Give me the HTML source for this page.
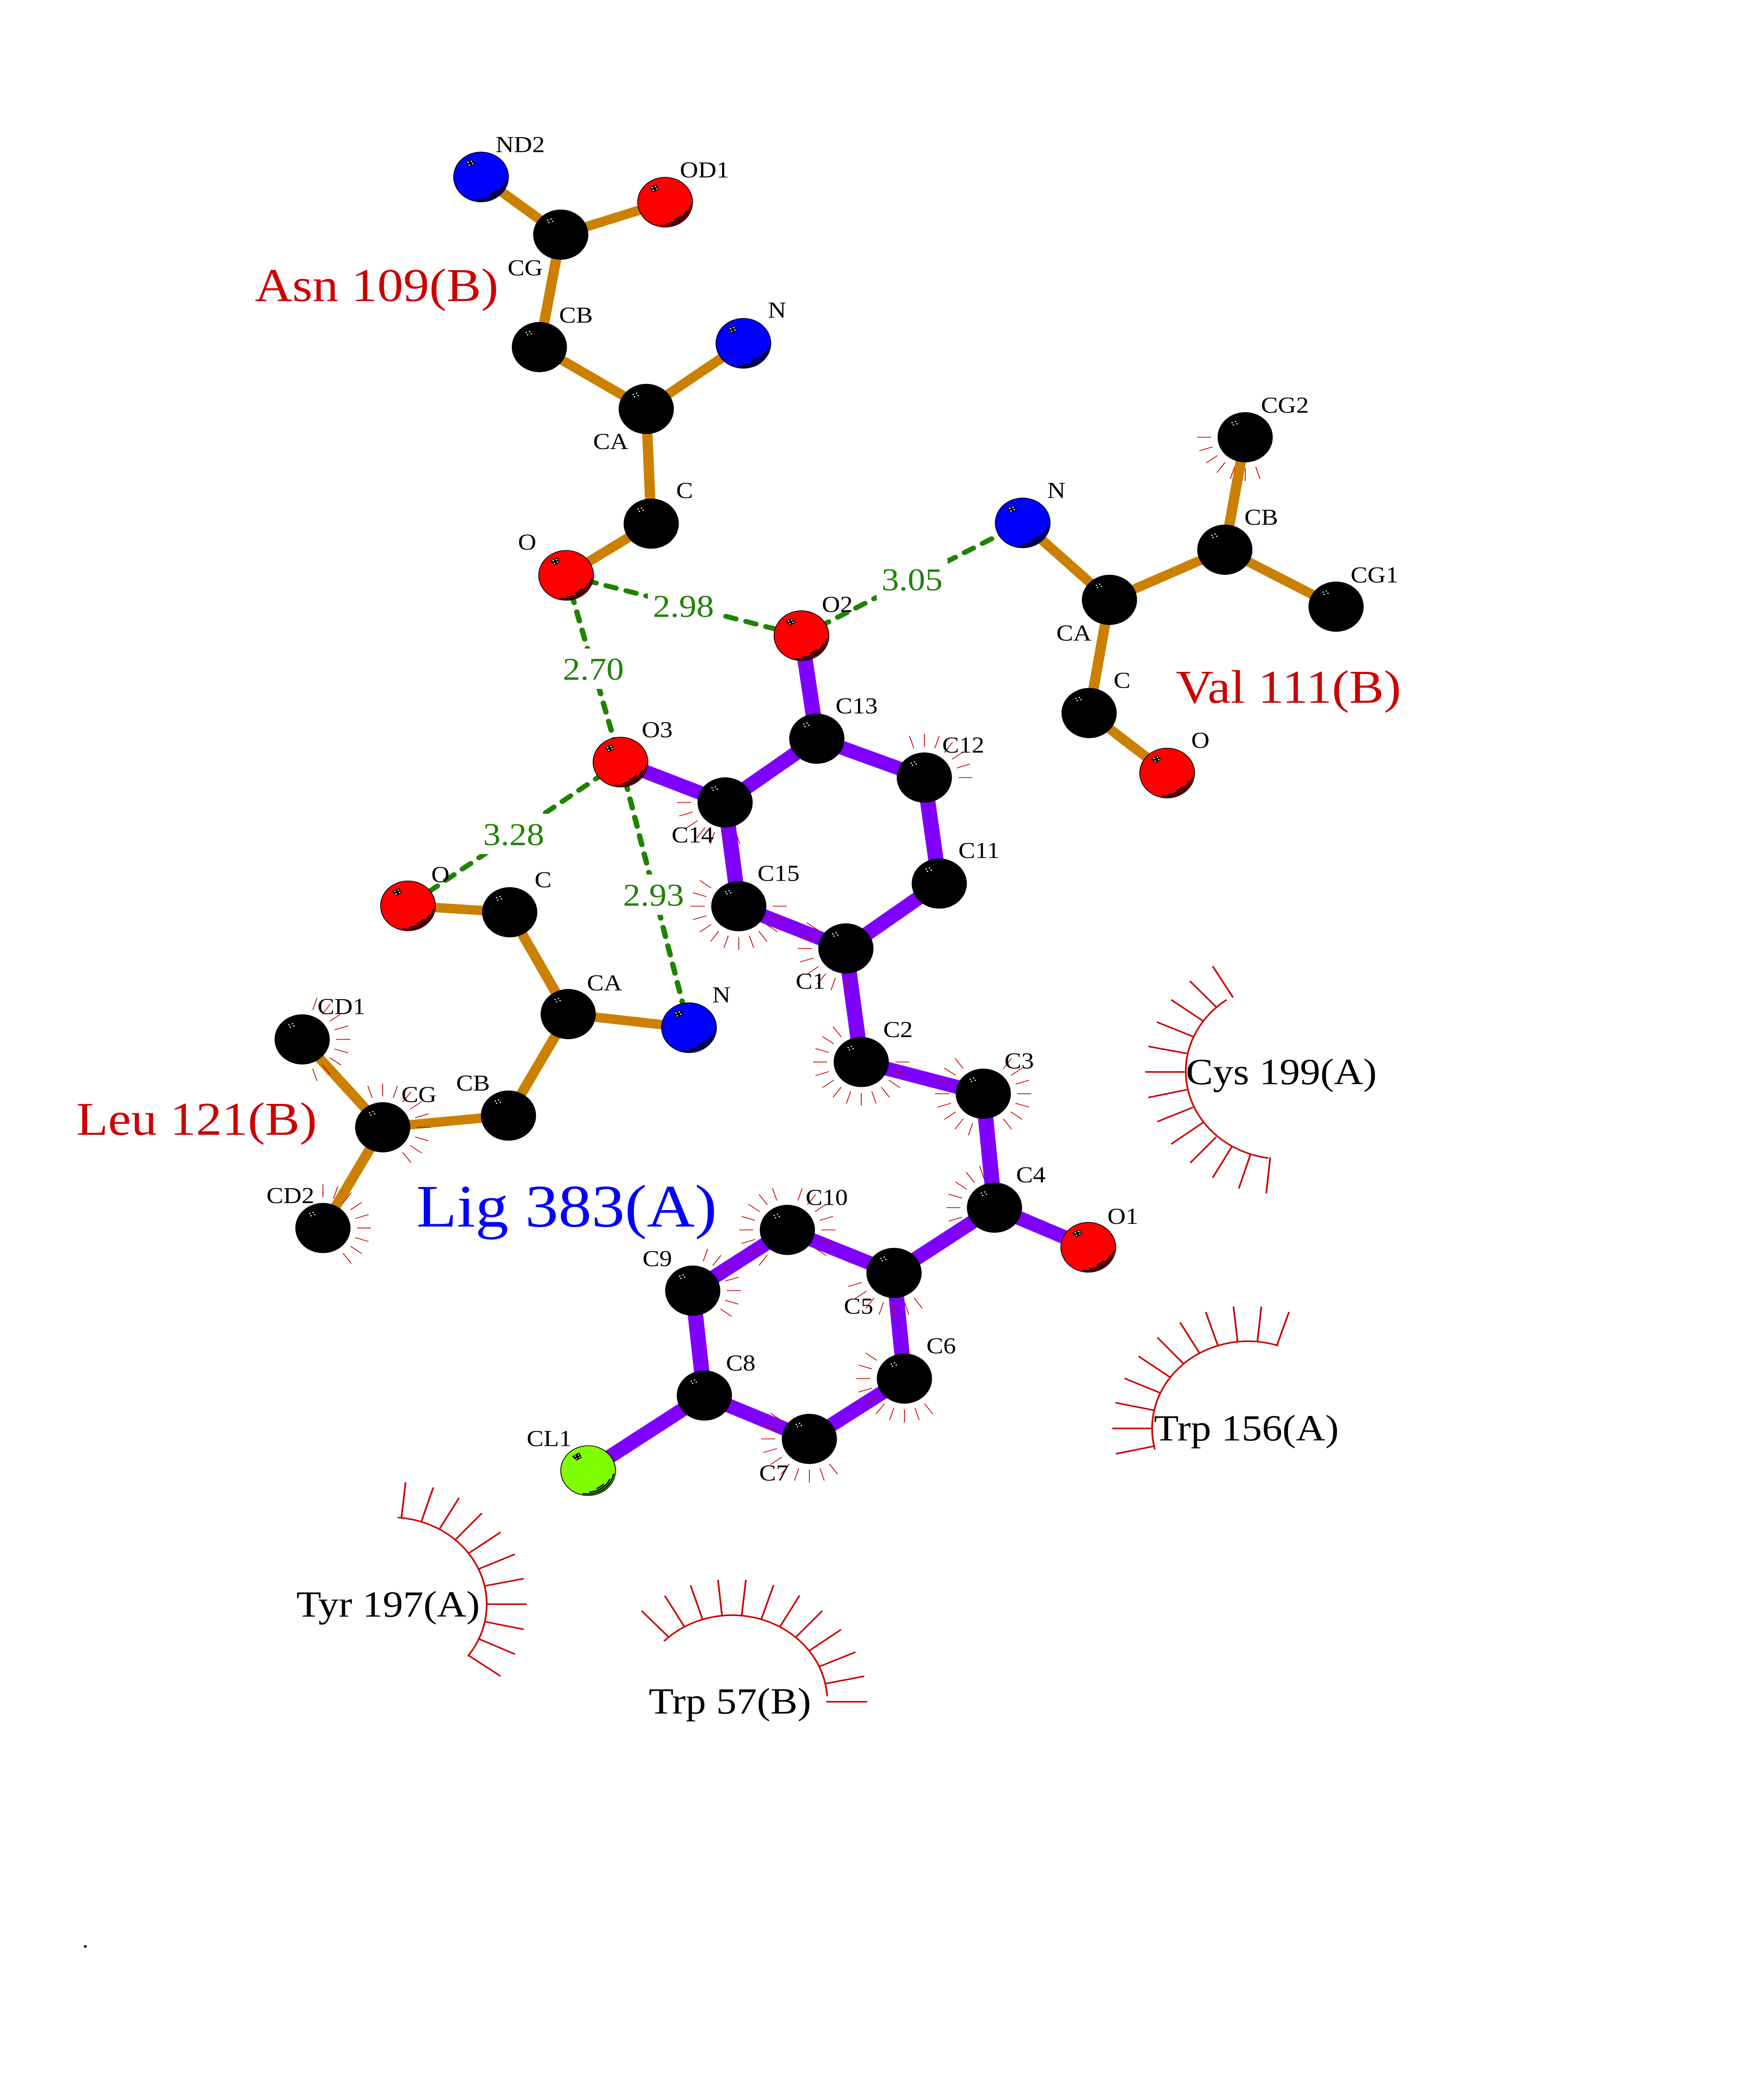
<!DOCTYPE html>
<html><head><meta charset="utf-8"><title>Ligand interaction diagram</title>
<style>
html,body{margin:0;padding:0;background:#fff;width:100%;height:100%;overflow:hidden}
svg{display:block;position:absolute;left:0;top:0;width:100vw;height:100vh}
text{font-family:"Liberation Serif","Times New Roman",serif}
.a{font-size:61px;fill:#000}
.d{font-size:84px;fill:#1f8200}
.r{font-size:125px;fill:#cc0000}
.k{font-size:98px;fill:#000}
.l{font-size:160px;fill:#0000ff}
.o{fill:none;stroke:#cc8000;stroke-width:25}
.p{fill:none;stroke:#8000ff;stroke-width:37}
.h{fill:none;stroke:#1f8200;stroke-width:13;stroke-dasharray:25 25;stroke-linecap:round}
.m line,.m path{stroke:#cc0000;stroke-width:8;stroke-linecap:round;fill:none}
</style></head><body>
<svg xmlns="http://www.w3.org/2000/svg" viewBox="0 0 4250 5500" preserveAspectRatio="none">
<defs>
<line id="s" x1="82" y1="0" x2="116" y2="0" stroke="#cc0000" stroke-width="2"/>
<g id="b"><circle r="66.5" fill="#000"/><g fill="#fff"><rect x="-33" y="-40" width="3" height="3"/><rect x="-25" y="-43" width="3" height="3"/><rect x="-30" y="-34" width="3" height="3"/><rect x="-21" y="-37" width="3" height="3"/></g></g>
<g id="c"><circle r="66" stroke="#000" stroke-width="2"/>
<polygon points="-38.8,-37.8 -21.4,-48 -15.3,-34.2 -28,-26.5" fill="#000"/>
<g fill="#fff"><rect x="-33" y="-40" width="3.5" height="3"/><rect x="-25" y="-43" width="3.5" height="3"/><rect x="-30" y="-33" width="3.5" height="3"/><rect x="-22" y="-37" width="3.5" height="3"/></g>
<g fill="none" stroke="#000" stroke-width="3.5" stroke-linecap="round"><path d="M-12,61A62,62 0 0 0 61,10"/><path d="M4,57A57.5,57.5 0 0 0 52,23.5"/><path d="M22,47A52,52 0 0 0 37,36.7"/></g></g>
</defs>

<!-- hydrogen bonds -->
<g class="h">
<line x1="1364" y1="1525" x2="1931" y2="1685"/>
<line x1="1364" y1="1525" x2="1495" y2="2020"/>
<line x1="1931" y1="1685" x2="2464" y2="1386"/>
<line x1="1495" y1="2020" x2="983" y2="2401"/>
<line x1="1495" y1="2020" x2="1660" y2="2724"/>
</g>
<g fill="#fff">
<rect x="1561" y="1552" width="171" height="107"/>
<rect x="2112" y="1482" width="171" height="107"/>
<rect x="1344" y="1719" width="171" height="107"/>
<rect x="1152" y="2157" width="171" height="107"/>
<rect x="1489" y="2318" width="171" height="107"/>
</g>

<!-- bonds -->
<g class="o">
<line x1="1159" y1="469" x2="1351" y2="622"/><line x1="1602" y1="536" x2="1351" y2="622"/>
<line x1="1351" y1="622" x2="1300" y2="920"/><line x1="1300" y1="920" x2="1557" y2="1084"/>
<line x1="1791" y1="910" x2="1557" y2="1084"/><line x1="1557" y1="1084" x2="1569" y2="1388"/>
<line x1="1569" y1="1388" x2="1364" y2="1525"/>
<line x1="2464" y1="1386" x2="2673" y2="1590"/><line x1="2673" y1="1590" x2="2951" y2="1457"/>
<line x1="2951" y1="1457" x2="3000" y2="1159"/><line x1="2951" y1="1457" x2="3219" y2="1608"/>
<line x1="2673" y1="1590" x2="2624" y2="1890"/><line x1="2624" y1="1890" x2="2812" y2="2049"/>
<line x1="983" y1="2401" x2="1228" y2="2418"/><line x1="1228" y1="2418" x2="1369" y2="2688"/>
<line x1="1369" y1="2688" x2="1660" y2="2724"/><line x1="1369" y1="2688" x2="1225" y2="2957"/>
<line x1="1225" y1="2957" x2="922" y2="2988"/><line x1="922" y1="2988" x2="728" y2="2755"/>
<line x1="922" y1="2988" x2="778" y2="3255"/>
</g>
<g class="p">
<line x1="1931" y1="1685" x2="1968" y2="1958"/><line x1="1968" y1="1958" x2="2227" y2="2061"/>
<line x1="2227" y1="2061" x2="2263" y2="2342"/><line x1="2263" y1="2342" x2="2038" y2="2514"/>
<line x1="2038" y1="2514" x2="1780" y2="2402"/><line x1="1780" y1="2402" x2="1747" y2="2127"/>
<line x1="1747" y1="2127" x2="1968" y2="1958"/><line x1="1747" y1="2127" x2="1495" y2="2020"/>
<line x1="2038" y1="2514" x2="2075" y2="2815"/><line x1="2075" y1="2815" x2="2369" y2="2899"/>
<line x1="2369" y1="2899" x2="2396" y2="3201"/><line x1="2396" y1="3201" x2="2622" y2="3306"/>
<line x1="2396" y1="3201" x2="2154" y2="3374"/><line x1="2154" y1="3374" x2="1897" y2="3260"/>
<line x1="1897" y1="3260" x2="1669" y2="3421"/><line x1="1669" y1="3421" x2="1697" y2="3699"/>
<line x1="1697" y1="3699" x2="1950" y2="3814"/><line x1="1950" y1="3814" x2="2179" y2="3654"/>
<line x1="2179" y1="3654" x2="2154" y2="3374"/><line x1="1697" y1="3699" x2="1417" y2="3898"/>
</g>

<!-- atoms -->
<use href="#c" x="1159" y="469" fill="#0000ff"/><use href="#c" x="1602.5" y="536" fill="#ff0000"/>
<use href="#b" x="1351" y="622"/><use href="#b" x="1299.5" y="920"/><use href="#c" x="1791" y="910" fill="#0000ff"/>
<use href="#b" x="1557" y="1084"/><use href="#b" x="1569" y="1388"/><use href="#c" x="1364" y="1525" fill="#ff0000"/>
<use href="#c" x="2464" y="1386" fill="#0000ff"/><use href="#b" x="2673" y="1590"/><use href="#b" x="2951" y="1457"/>
<use href="#b" x="3000" y="1159"/><use href="#b" x="3219" y="1608"/><use href="#b" x="2624" y="1890"/><use href="#c" x="2812" y="2049" fill="#ff0000"/>
<use href="#c" x="1931" y="1685" fill="#ff0000"/><use href="#b" x="1968" y="1958"/><use href="#b" x="2227" y="2061"/>
<use href="#b" x="2263" y="2342"/><use href="#b" x="2038" y="2514"/><use href="#b" x="1780" y="2402"/><use href="#b" x="1747" y="2127"/>
<use href="#c" x="1495" y="2020" fill="#ff0000"/><use href="#b" x="2075" y="2815"/><use href="#b" x="2369" y="2899"/>
<use href="#b" x="2396" y="3201"/><use href="#c" x="2622" y="3306" fill="#ff0000"/><use href="#b" x="2154" y="3374"/>
<use href="#b" x="1897" y="3260"/><use href="#b" x="1669" y="3421"/><use href="#b" x="1697" y="3699"/><use href="#b" x="1950" y="3814"/>
<use href="#b" x="2179" y="3654"/><use href="#c" x="1417" y="3898" fill="#80ff00"/>
<use href="#c" x="983" y="2401" fill="#ff0000"/><use href="#b" x="1228" y="2418"/><use href="#b" x="1369" y="2688"/>
<use href="#c" x="1660" y="2724" fill="#0000ff"/><use href="#b" x="1225" y="2957"/><use href="#b" x="922" y="2988"/>
<use href="#b" x="728" y="2755"/><use href="#b" x="778" y="3255"/>

<!-- small hydrophobic fans -->
<g transform="translate(728 2755)"><use href="#s" transform="rotate(-72)"/><use href="#s" transform="rotate(-54)"/><use href="#s" transform="rotate(-36)"/><use href="#s" transform="rotate(-18)"/><use href="#s"/><use href="#s" transform="rotate(18)"/><use href="#s" transform="rotate(36)"/><use href="#s" transform="rotate(54)"/><use href="#s" transform="rotate(72)"/></g>
<g transform="translate(922 2988)"><use href="#s" transform="rotate(-108)"/><use href="#s" transform="rotate(-90)"/><use href="#s" transform="rotate(-72)"/><use href="#s" transform="rotate(-54)"/><use href="#s" transform="rotate(-36)"/><use href="#s" transform="rotate(-18)"/><use href="#s"/><use href="#s" transform="rotate(18)"/><use href="#s" transform="rotate(36)"/><use href="#s" transform="rotate(54)"/></g>
<g transform="translate(778 3255)"><use href="#s" transform="rotate(-90)"/><use href="#s" transform="rotate(-72)"/><use href="#s" transform="rotate(-54)"/><use href="#s" transform="rotate(-36)"/><use href="#s" transform="rotate(-18)"/><use href="#s"/><use href="#s" transform="rotate(18)"/><use href="#s" transform="rotate(36)"/><use href="#s" transform="rotate(54)"/></g>
<g transform="translate(1747 2127)"><use href="#s" transform="rotate(72)"/><use href="#s" transform="rotate(90)"/><use href="#s" transform="rotate(108)"/><use href="#s" transform="rotate(126)"/><use href="#s" transform="rotate(144)"/><use href="#s" transform="rotate(162)"/><use href="#s" transform="rotate(180)"/></g>
<g transform="translate(1780 2402)"><use href="#s"/><use href="#s" transform="rotate(18)"/><use href="#s" transform="rotate(36)"/><use href="#s" transform="rotate(54)"/><use href="#s" transform="rotate(72)"/><use href="#s" transform="rotate(90)"/><use href="#s" transform="rotate(108)"/><use href="#s" transform="rotate(126)"/><use href="#s" transform="rotate(144)"/><use href="#s" transform="rotate(162)"/><use href="#s" transform="rotate(180)"/><use href="#s" transform="rotate(198)"/><use href="#s" transform="rotate(216)"/></g>
<g transform="translate(2038 2514)"><use href="#s" transform="rotate(90)"/><use href="#s" transform="rotate(108)"/><use href="#s" transform="rotate(126)"/><use href="#s" transform="rotate(144)"/><use href="#s" transform="rotate(162)"/><use href="#s" transform="rotate(180)"/><use href="#s" transform="rotate(198)"/><use href="#s" transform="rotate(216)"/></g>
<g transform="translate(2075 2815)"><use href="#s"/><use href="#s" transform="rotate(18)"/><use href="#s" transform="rotate(36)"/><use href="#s" transform="rotate(54)"/><use href="#s" transform="rotate(72)"/><use href="#s" transform="rotate(90)"/><use href="#s" transform="rotate(108)"/><use href="#s" transform="rotate(126)"/><use href="#s" transform="rotate(144)"/><use href="#s" transform="rotate(162)"/><use href="#s" transform="rotate(180)"/><use href="#s" transform="rotate(198)"/><use href="#s" transform="rotate(216)"/><use href="#s" transform="rotate(234)"/></g>
<g transform="translate(2369 2899)"><use href="#s" transform="rotate(-54)"/><use href="#s" transform="rotate(-36)"/><use href="#s" transform="rotate(-18)"/><use href="#s"/><use href="#s" transform="rotate(18)"/><use href="#s" transform="rotate(36)"/><use href="#s" transform="rotate(54)"/><use href="#s" transform="rotate(108)"/><use href="#s" transform="rotate(126)"/><use href="#s" transform="rotate(144)"/><use href="#s" transform="rotate(162)"/><use href="#s" transform="rotate(180)"/><use href="#s" transform="rotate(198)"/><use href="#s" transform="rotate(216)"/><use href="#s" transform="rotate(234)"/></g>
<g transform="translate(2396 3201)"><use href="#s" transform="rotate(144)"/><use href="#s" transform="rotate(162)"/><use href="#s" transform="rotate(180)"/><use href="#s" transform="rotate(198)"/><use href="#s" transform="rotate(216)"/><use href="#s" transform="rotate(234)"/><use href="#s" transform="rotate(252)"/></g>
<g transform="translate(1897 3260)"><use href="#s" transform="rotate(-72)"/><use href="#s" transform="rotate(-54)"/><use href="#s" transform="rotate(-36)"/><use href="#s" transform="rotate(-18)"/><use href="#s"/><use href="#s" transform="rotate(18)"/><use href="#s" transform="rotate(36)"/><use href="#s" transform="rotate(126)"/><use href="#s" transform="rotate(144)"/><use href="#s" transform="rotate(162)"/><use href="#s" transform="rotate(180)"/><use href="#s" transform="rotate(198)"/><use href="#s" transform="rotate(216)"/><use href="#s" transform="rotate(234)"/><use href="#s" transform="rotate(252)"/></g>
<g transform="translate(1669 3421)"><use href="#s" transform="rotate(-72)"/><use href="#s" transform="rotate(-54)"/><use href="#s" transform="rotate(-36)"/><use href="#s" transform="rotate(-18)"/><use href="#s"/><use href="#s" transform="rotate(18)"/><use href="#s" transform="rotate(36)"/></g>
<g transform="translate(2154 3374)"><use href="#s" transform="rotate(54)"/><use href="#s" transform="rotate(72)"/><use href="#s" transform="rotate(90)"/><use href="#s" transform="rotate(108)"/><use href="#s" transform="rotate(126)"/><use href="#s" transform="rotate(144)"/><use href="#s" transform="rotate(162)"/></g>
<g transform="translate(2179 3654)"><use href="#s" transform="rotate(54)"/><use href="#s" transform="rotate(72)"/><use href="#s" transform="rotate(90)"/><use href="#s" transform="rotate(108)"/><use href="#s" transform="rotate(126)"/><use href="#s" transform="rotate(144)"/><use href="#s" transform="rotate(162)"/><use href="#s" transform="rotate(180)"/><use href="#s" transform="rotate(198)"/><use href="#s" transform="rotate(216)"/></g>
<g transform="translate(1950 3814)"><use href="#s" transform="rotate(54)"/><use href="#s" transform="rotate(72)"/><use href="#s" transform="rotate(90)"/><use href="#s" transform="rotate(108)"/><use href="#s" transform="rotate(126)"/><use href="#s" transform="rotate(144)"/><use href="#s" transform="rotate(162)"/><use href="#s" transform="rotate(180)"/><use href="#s" transform="rotate(198)"/><use href="#s" transform="rotate(216)"/></g>
<g transform="translate(3000 1159)"><use href="#s" transform="rotate(72)"/><use href="#s" transform="rotate(90)"/><use href="#s" transform="rotate(108)"/><use href="#s" transform="rotate(126)"/><use href="#s" transform="rotate(144)"/><use href="#s" transform="rotate(162)"/><use href="#s" transform="rotate(180)"/></g>
<g transform="translate(2227 2061)"><use href="#s" transform="rotate(-108)"/><use href="#s" transform="rotate(-90)"/><use href="#s" transform="rotate(-72)"/><use href="#s" transform="rotate(-54)"/><use href="#s" transform="rotate(-36)"/><use href="#s" transform="rotate(-18)"/><use href="#s"/></g>

<!-- large hydrophobic arcs -->
<g class="m" transform="translate(2600 2400) scale(.5102)">
<path d="M694,492A455,455 0 0 0 890,1312"/>
<line x1="725" y1="475" x2="632" y2="318"/><line x1="645" y1="525" x2="525" y2="395"/><line x1="582" y1="598" x2="437" y2="492"/><line x1="535" y1="680" x2="370" y2="607"/><line x1="505" y1="768" x2="330" y2="733"/><line x1="495" y1="865" x2="315" y2="865"/><line x1="505" y1="958" x2="330" y2="997"/><line x1="535" y1="1050" x2="372" y2="1122"/><line x1="582" y1="1130" x2="437" y2="1238"/><line x1="645" y1="1205" x2="527" y2="1335"/><line x1="720" y1="1255" x2="632" y2="1412"/><line x1="808" y1="1297" x2="755" y2="1467"/><line x1="902" y1="1312" x2="884" y2="1492"/>
</g>
<g class="m" transform="translate(2600 3400) scale(.5102)">
<path d="M357,863A453,453 0 0 1 937,326"/>
<line x1="340" y1="757" x2="160" y2="757"/><line x1="350" y1="662" x2="175" y2="624"/><line x1="380" y1="571" x2="217" y2="498"/><line x1="427" y1="489" x2="283" y2="384"/><line x1="490" y1="418" x2="372" y2="287"/><line x1="567" y1="363" x2="478" y2="209"/><line x1="654" y1="323" x2="599" y2="156"/><line x1="748" y1="303" x2="729" y2="127"/><line x1="842" y1="303" x2="860" y2="127"/><line x1="934" y1="325" x2="990" y2="155"/><line x1="350" y1="850" x2="176" y2="888"/>
</g>
<g class="m" transform="translate(800 3850) scale(.5102)">
<path d="M313,338A452,452 0 0 1 643,1056"/>
<line x1="737" y1="788" x2="916" y2="788"/><line x1="727" y1="692" x2="902" y2="656"/><line x1="697" y1="603" x2="860" y2="530"/><line x1="650" y1="520" x2="793" y2="416"/><line x1="585" y1="450" x2="705" y2="318"/><line x1="510" y1="393" x2="598" y2="239"/><line x1="423" y1="355" x2="477" y2="185"/><line x1="328" y1="335" x2="347" y2="158"/><line x1="727" y1="880" x2="902" y2="918"/><line x1="697" y1="970" x2="860" y2="1046"/><line x1="647" y1="1056" x2="793" y2="1160"/>
</g>
<g class="m" transform="translate(1450 4050) scale(.5102)">
<path d="M296,586A450,450 0 0 1 1064,871"/>
<line x1="312" y1="563" x2="190" y2="433"/><line x1="388" y1="510" x2="299" y2="355"/><line x1="474" y1="470" x2="420" y2="301"/><line x1="567" y1="450" x2="549" y2="273"/><line x1="661" y1="450" x2="680" y2="273"/><line x1="755" y1="468" x2="810" y2="300"/><line x1="843" y1="510" x2="932" y2="354"/><line x1="918" y1="565" x2="1039" y2="433"/><line x1="982" y1="636" x2="1127" y2="530"/><line x1="1032" y1="718" x2="1195" y2="646"/><line x1="1060" y1="808" x2="1236" y2="771"/><line x1="1063" y1="903" x2="1250" y2="903"/>
</g>

<!-- atom labels -->
<g>
<text class="a" x="1194" y="403">ND2</text><text class="a" x="1638" y="470">OD1</text><text class="a" x="1223" y="730">CG</text><text class="a" x="1347" y="855">CB</text>
<text class="a" x="1850" y="842">N</text><text class="a" x="1429" y="1190">CA</text><text class="a" x="1629" y="1320">C</text><text class="a" x="1248" y="1457">O</text>
<text class="a" x="2523" y="1320">N</text><text class="a" x="2998" y="1391">CB</text><text class="a" x="3038" y="1094">CG2</text><text class="a" x="3254" y="1544">CG1</text>
<text class="a" x="2545" y="1698">CA</text><text class="a" x="2683" y="1823">C</text><text class="a" x="2870" y="1982">O</text>
<text class="a" x="1980" y="1622">O2</text><text class="a" x="2013" y="1891">C13</text><text class="a" x="2270" y="1995">C12</text><text class="a" x="2309" y="2274">C11</text>
<text class="a" x="1825" y="2335">C15</text><text class="a" x="1618" y="2233">C14</text><text class="a" x="1546" y="1954">O3</text>
<text class="a" x="1917" y="2621">C1</text><text class="a" x="2128" y="2749">C2</text><text class="a" x="2420" y="2832">C3</text><text class="a" x="2448" y="3134">C4</text>
<text class="a" x="2668" y="3244">O1</text><text class="a" x="2033" y="3482">C5</text><text class="a" x="2232" y="3587">C6</text><text class="a" x="1829" y="3924">C7</text>
<text class="a" x="1749" y="3633">C8</text><text class="a" x="1548" y="3356">C9</text><text class="a" x="1941" y="3194">C10</text><text class="a" x="1269" y="3833">CL1</text>
<text class="a" x="1039" y="2338">O</text><text class="a" x="1288" y="2352">C</text><text class="a" x="1414" y="2625">CA</text><text class="a" x="1716" y="2657">N</text>
<text class="a" x="1099" y="2891">CB</text><text class="a" x="967" y="2921">CG</text><text class="a" x="765" y="2688">CD1</text><text class="a" x="642" y="3189">CD2</text>
</g>

<!-- distances -->
<text class="d" x="1573" y="1635">2.98</text>
<text class="d" x="2124" y="1565">3.05</text>
<text class="d" x="1356" y="1802">2.70</text>
<text class="d" x="1164" y="2240">3.28</text>
<text class="d" x="1501" y="2401">2.93</text>

<!-- residue labels -->
<text class="r" x="614" y="798">Asn 109(B)</text>
<text class="r" x="2833" y="1863">Val 111(B)</text>
<text class="r" x="184" y="3008">Leu 121(B)</text>
<text class="l" x="1003" y="3251">Lig 383(A)</text>
<text class="k" x="2857" y="2874">Cys 199(A)</text>
<text class="k" x="2780" y="3818">Trp 156(A)</text>
<text class="k" x="714" y="4285">Tyr 197(A)</text>
<text class="k" x="1563" y="4542">Trp 57(B)</text>
<text class="a" x="198" y="5162">.</text>
</svg>
</body></html>
